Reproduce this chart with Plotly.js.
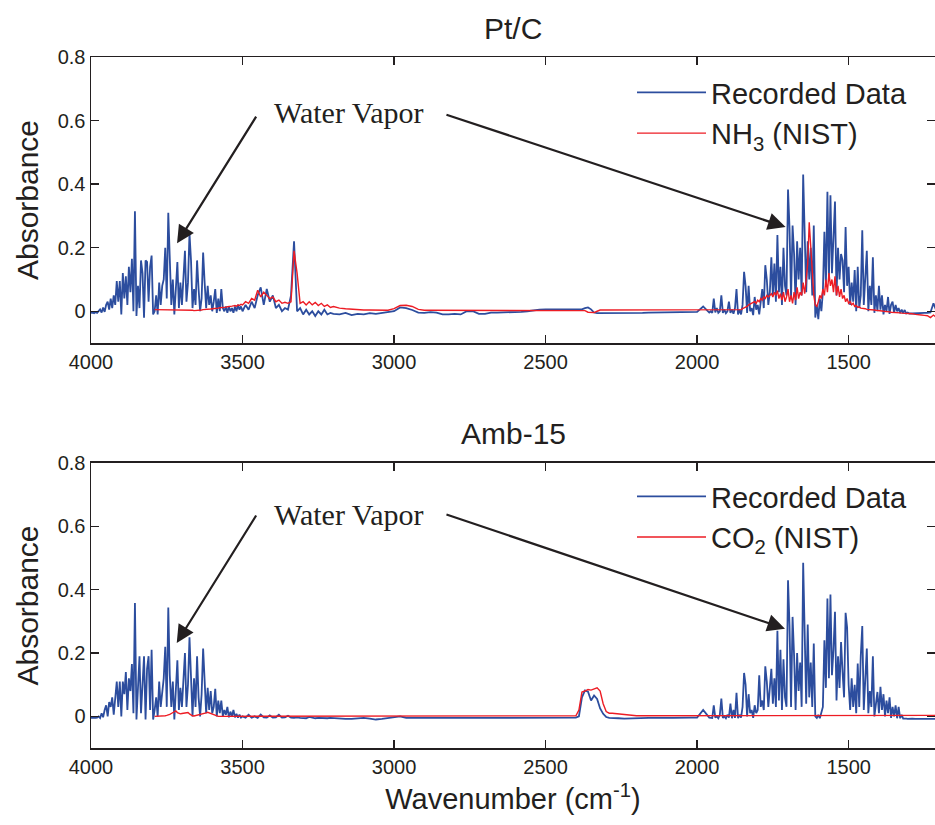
<!DOCTYPE html>
<html>
<head>
<meta charset="utf-8">
<script src="https://cdn.plot.ly/plotly-3.0.1.min.js"></script>
<style>html,body{margin:0;padding:0;background:#fff;}#chart{width:935px;height:825px;}</style>
</head>
<body>
<div id="chart"></div>
<script>
// Shared wavenumber grid (cm^-1)
const wavenumber = [
  4000,3995,3990,3985,3980,3975,3970,3965,3960,3955,
  3950,3945,3940,3935,3930,3925,3920,3915,3910,3905,
  3900,3895,3890,3885,3880,3875,3870,3865,3860,3855,
  3850,3845,3840,3835,3830,3825,3820,3815,3810,3805,
  3800,3795,3790,3785,3780,3775,3770,3765,3760,3755,
  3750,3745,3740,3735,3730,3725,3720,3715,3710,3705,
  3700,3695,3690,3685,3680,3675,3670,3665,3660,3655,
  3650,3645,3640,3635,3630,3625,3620,3615,3610,3605,
  3600,3595,3590,3585,3580,3575,3570,3565,3560,3555,
  3550,3545,3540,3535,3530,3525,3520,3515,3510,3505,
  3500,
  3490,3480,3470,3460,3450,3440,3430,3420,3410,3400,
  3390,3380,3370,3360,3350,3340,3330,3320,3310,3300,
  3290,3280,3270,3260,3250,3240,3230,3220,3210,3200,
  3180,3160,3140,3120,3100,3080,3060,3040,3020,3000,
  2980,2960,2940,2920,2900,2880,2860,2840,2820,2800,
  2780,2760,2740,2720,2700,2680,2660,2640,2620,2600,
  2580,2560,2540,2520,2500,2480,2460,2440,2420,
  2400,2390,2380,2370,2360,2350,2340,2330,2320,2310,2300,2290,2280,
  2260,2240,2220,2200,2180,2160,2140,2120,2100,2080,2060,2040,2020,2000,1980,1960,
  1955,1950,1945,1940,1935,1930,1925,1920,1915,1910,
  1905,1900,1895,1890,1885,1880,1875,1870,1865,1860,
  1855,1850,1845,1840,1835,1830,1825,1820,1815,1810,
  1805,1800,1795,1790,1785,1780,1775,1770,1765,1760,
  1755,1750,1745,1740,1735,1730,1725,1720,1715,1710,
  1705,1700,1695,1690,1685,1680,1675,1670,1665,1660,
  1655,1650,1645,1640,1635,1630,1625,1620,1615,1610,
  1605,1600,1595,1590,1585,1580,1575,1570,1565,1560,
  1555,1550,1545,1540,1535,1530,1525,1520,1515,1510,
  1505,1500,1495,1490,1485,1480,1475,1470,1465,1460,
  1455,1450,1445,1440,1435,1430,1425,1420,1415,1410,
  1405,1400,1395,1390,1385,1380,1375,1370,1365,1360,
  1355,1350,1345,1340,1335,1330,1325,1320,1315,1310,
  1305,1300,
  1290,1280,1270,1260,1250,1240,1230,1220,1210
];

// Pt/C panel: recorded absorbance
const ptcRecorded = [
  -0.005,-0.004,-0.006,-0.003,-0.005,0.0,0.006,-0.004,0.012,-0.002,
  0.02,0.03,0.005,0.04,0.01,0.05,0.02,0.095,0.03,0.095,
  -0.01,0.12,0.04,0.11,0.02,0.14,0.06,0.165,0.0,0.315,
  -0.015,0.08,0.01,0.16,0.12,-0.02,0.16,0.155,0.03,0.14,
  0.175,-0.01,0.0,0.05,-0.01,0.09,0.02,0.08,0.10,0.2,
  0.04,0.31,0.12,0.02,0.1,-0.01,0.07,0.155,0.01,0.09,
  0.02,0.10,0.19,0.03,0.09,0.245,0.16,0.01,0.07,0.02,
  0.16,0.07,0.0,0.04,0.185,0.09,0.01,0.08,0.02,0.05,
  0.0,0.03,0.07,-0.005,0.04,0.0,0.07,0.01,0.0,0.015,
  -0.005,0.015,0.0,0.01,-0.005,0.015,0.0,0.02,0.005,0.015,
  0.0,
  0.02,0.005,0.03,0.01,0.05,0.075,0.02,0.07,0.03,0.05,
  0.01,0.02,0.0,0.01,0.005,0.05,0.22,0.0,0.01,-0.01,
  0.005,-0.01,0.0,-0.015,0.0,-0.01,0.005,-0.01,-0.005,-0.008,
  -0.01,-0.005,-0.012,-0.008,-0.01,-0.006,-0.008,-0.005,-0.004,0.0,
  0.012,0.01,0.004,-0.004,-0.005,-0.003,-0.004,-0.01,-0.01,-0.008,
  -0.01,0.0,0.0,-0.008,-0.008,-0.004,-0.004,-0.004,-0.003,-0.002,
  -0.002,0.0,0.003,0.005,0.006,0.006,0.006,0.006,0.006,
  0.006,0.006,0.006,0.01,0.012,0.006,-0.004,-0.006,-0.006,-0.007,-0.007,-0.006,-0.006,
  -0.006,-0.006,-0.005,-0.005,-0.005,-0.004,-0.004,-0.004,-0.004,-0.003,-0.004,-0.003,-0.003,-0.002,0.015,-0.004,
  0.0,-0.005,0.04,-0.004,0.01,-0.005,0.0,0.05,-0.005,0.005,
  -0.006,0.0,0.03,-0.005,0.005,-0.008,0.01,0.07,-0.01,0.005,
  -0.01,0.02,0.124,0.08,-0.005,0.08,0.0,0.01,-0.012,0.045,
  0.005,0.02,-0.01,0.03,0.07,0.01,0.145,0.10,0.02,0.06,
  0.17,0.05,0.15,0.03,0.24,0.06,0.14,0.02,0.20,0.08,
  0.05,0.383,0.26,0.04,0.27,0.18,0.02,0.22,0.1,0.2,
  0.05,0.43,0.27,0.06,0.22,0.1,0.2,0.05,0.27,-0.02,
  0.02,-0.025,0.04,0.0,0.06,0.25,0.08,0.376,0.1,0.365,
  0.12,0.25,0.345,0.05,0.2,0.1,0.18,0.16,0.06,0.265,
  0.08,0.14,0.02,0.09,0.03,0.13,0.0,0.14,0.01,0.05,
  0.255,0.02,0.09,0.19,0.0,0.08,0.02,0.17,-0.005,0.05,
  0.0,0.08,0.005,0.05,-0.01,0.02,0.0,0.045,-0.008,0.02,
  0.03,-0.005,0.02,0.0,0.01,-0.006,0.005,-0.006,0.004,-0.007,
  -0.004,-0.007,
  -0.007,-0.006,-0.007,-0.006,-0.005,-0.005,-0.004,0.025,0.0
];

// Pt/C panel: NH3 reference spectrum (NIST)
const ptcNH3 = [
  null,null,null,null,null,null,null,null,null,null,
  null,null,null,null,null,null,null,null,null,null,
  null,null,null,null,null,null,null,null,null,null,
  null,null,null,null,null,null,null,null,null,null,
  null,null,0.005,0.005,0.004,0.005,0.005,0.004,0.003,0.004,
  0.003,0.004,0.003,0.003,0.004,0.005,0.005,0.004,0.003,0.003,
  0.004,0.005,0.004,0.003,0.003,0.004,0.003,0.003,0.002,0.002,
  0.003,0.003,0.004,0.004,0.005,0.005,0.006,0.006,0.007,0.007,
  0.008,0.008,0.009,0.01,0.01,0.011,0.011,0.012,0.012,0.013,
  0.014,0.014,0.015,0.016,0.017,0.018,0.016,0.02,0.018,0.022,
  0.02,
  0.03,0.025,0.04,0.035,0.066,0.045,0.06,0.05,0.04,0.045,
  0.03,0.035,0.025,0.028,0.025,0.03,0.19,0.12,0.025,0.03,
  0.02,0.03,0.02,0.028,0.018,0.025,0.015,0.02,0.012,0.015,
  0.01,0.008,0.006,0.005,0.004,0.004,0.003,0.003,0.003,0.008,
  0.018,0.019,0.015,0.006,0.003,0.003,0.003,0.003,0.003,0.003,
  0.003,0.003,0.003,0.003,0.003,0.003,0.003,0.003,0.003,0.003,
  0.003,0.003,0.003,0.003,0.003,0.003,0.003,0.003,0.003,
  0.003,0.003,0.003,0.002,-0.003,-0.004,-0.004,0.0,0.004,0.004,0.004,0.004,0.004,
  0.004,0.004,0.004,0.004,0.004,0.004,0.004,0.004,0.004,0.004,0.004,0.004,0.004,0.004,0.004,0.004,
  0.005,0.005,0.005,0.005,0.005,0.005,0.005,0.005,0.005,0.005,
  0.005,0.005,0.005,0.005,0.005,0.005,0.005,0.005,0.005,0.005,
  0.005,0.008,0.01,0.012,0.015,0.02,0.022,0.025,0.028,0.03,
  0.025,0.035,0.03,0.04,0.035,0.045,0.04,0.05,0.045,0.05,
  0.055,0.045,0.06,0.05,0.065,0.04,0.055,0.035,0.06,0.03,
  0.045,0.07,0.03,0.05,0.025,0.06,0.035,0.075,0.04,0.06,
  0.05,0.09,0.055,0.1,0.15,0.28,0.2,0.14,0.05,0.02,
  0.015,0.03,0.05,0.04,0.07,0.05,0.1,0.06,0.12,0.08,
  0.1,0.06,0.11,0.05,0.08,0.045,0.07,0.04,0.05,0.03,
  0.04,0.025,0.03,0.02,0.025,0.015,0.018,0.012,0.014,0.01,
  0.01,0.008,0.008,0.006,0.006,0.005,0.005,0.004,0.004,0.003,
  0.003,0.002,0.002,0.001,0.0,0.0,-0.001,-0.002,-0.002,-0.003,
  -0.003,-0.004,-0.004,-0.005,-0.005,-0.005,-0.006,-0.006,-0.006,-0.007,
  -0.007,-0.008,
  -0.008,-0.01,-0.012,-0.012,-0.013,-0.014,-0.02,-0.012,-0.02
];

// Amb-15 panel: recorded absorbance
const ambRecorded = [
  -0.005,-0.006,-0.005,-0.005,-0.004,0.0,-0.005,0.01,-0.003,0.02,
  0.035,0.0,0.045,0.03,0.06,0.005,0.06,0.11,0.03,0.11,
  0.0,0.11,0.07,0.14,0.02,0.12,0.08,0.165,0.01,0.358,
  -0.01,0.1,0.19,0.01,0.12,0.19,-0.01,0.15,0.19,0.02,
  0.21,-0.01,0.02,0.06,0.0,0.11,0.03,0.09,0.12,0.22,
  0.03,0.344,0.13,0.03,0.11,-0.01,0.08,0.177,0.02,0.09,
  0.03,0.1,0.2,0.03,0.1,0.25,0.13,0.0,0.12,0.03,
  0.19,0.06,0.0,0.07,0.214,0.1,0.01,0.09,0.02,0.08,
  0.01,0.03,0.087,0.0,0.05,0.01,0.05,0.0,0.02,0.005,
  0.03,-0.003,0.015,0.0,0.02,-0.003,0.008,-0.004,0.005,-0.004,
  0.0,
  -0.004,0.005,-0.004,0.0,-0.005,0.006,-0.003,-0.004,0.003,-0.004,
  -0.003,0.005,-0.004,-0.003,0.002,-0.004,-0.005,-0.003,-0.005,-0.006,
  -0.006,-0.002,-0.005,-0.006,-0.005,-0.006,-0.005,-0.006,-0.005,-0.006,
  -0.006,-0.008,-0.008,-0.006,-0.005,-0.007,-0.01,-0.008,-0.006,-0.004,
  0.0,-0.005,-0.006,-0.005,-0.005,-0.006,-0.005,-0.005,-0.005,-0.004,
  -0.005,-0.005,-0.004,-0.004,-0.004,-0.005,-0.005,-0.004,-0.004,-0.004,
  -0.004,-0.004,-0.004,-0.004,-0.004,-0.004,-0.004,-0.004,-0.004,
  -0.004,0.0,0.06,0.082,0.078,0.05,0.066,0.055,0.025,0.008,-0.002,-0.005,-0.006,
  -0.006,-0.007,-0.006,-0.005,-0.006,-0.005,-0.005,-0.006,-0.005,-0.005,-0.004,-0.005,-0.004,-0.004,0.02,-0.004,
  -0.004,-0.005,0.035,-0.004,0.0,-0.006,0.005,0.056,-0.005,0.0,
  -0.006,0.005,-0.004,0.04,-0.006,0.02,-0.005,0.074,-0.006,0.005,
  -0.004,0.03,0.137,0.1,0.0,0.07,0.01,0.02,-0.005,0.035,
  0.01,0.02,0.13,0.03,0.05,0.02,0.158,0.11,0.03,0.09,
  0.15,0.04,0.12,0.03,0.27,0.05,0.21,0.02,0.18,0.06,
  0.03,0.43,0.285,0.03,0.314,0.193,0.02,0.2,0.08,0.17,
  0.03,0.485,0.3,0.04,0.29,0.06,0.17,0.03,0.23,0.0,
  -0.005,0.005,-0.006,0.01,0.03,0.24,0.09,0.372,0.12,0.385,
  0.13,0.21,0.33,0.05,0.19,0.09,0.235,0.14,0.06,0.327,
  0.28,0.1,0.02,0.12,0.03,0.1,0.01,0.167,0.03,0.19,
  0.285,0.02,0.1,0.214,0.01,0.08,0.03,0.19,0.0,0.04,
  0.077,0.01,0.093,0.02,0.07,0.0,0.05,0.01,0.06,-0.005,
  0.03,0.0,0.035,-0.006,0.03,-0.006,0.005,-0.007,-0.006,-0.007,
  -0.008,-0.007,
  -0.007,-0.008,-0.008,-0.007,-0.008,-0.007,-0.008,-0.007,-0.008
];

// Amb-15 panel: CO2 reference spectrum (NIST)
const ambCO2 = [
  null,null,null,null,null,null,null,null,null,null,
  null,null,null,null,null,null,null,null,null,null,
  null,null,null,null,null,null,null,null,null,null,
  null,null,null,null,null,null,null,null,null,null,
  null,null,0.0,0.0,0.0,0.0,0.0,0.0,0.001,0.002,
  0.003,0.004,0.006,0.009,0.012,0.016,0.017,0.012,0.009,0.008,
  0.009,0.01,0.012,0.013,0.012,0.008,0.004,0.002,0.001,0.002,
  0.003,0.005,0.007,0.008,0.009,0.01,0.011,0.013,0.011,0.009,
  0.007,0.005,0.003,0.001,0.0,0.0,0.0,0.0,0.001,0.001,
  0.001,0.001,0.001,0.001,0.001,0.001,0.001,0.001,0.001,0.001,
  0.001,
  0.001,0.001,0.001,0.001,0.001,0.001,0.001,0.001,0.001,0.001,
  0.001,0.001,0.001,0.001,0.001,0.001,0.001,0.001,0.001,0.001,
  0.001,0.001,0.001,0.001,0.001,0.001,0.001,0.001,0.001,0.001,
  0.001,0.001,0.001,0.001,0.001,0.001,0.001,0.001,0.001,0.001,
  0.001,0.001,0.001,0.001,0.001,0.001,0.001,0.001,0.001,0.001,
  0.001,0.001,0.001,0.001,0.001,0.001,0.001,0.001,0.001,0.001,
  0.001,0.001,0.001,0.001,0.001,0.001,0.001,0.001,0.001,
  0.002,0.02,0.077,0.08,0.085,0.083,0.086,0.09,0.08,0.04,0.015,0.01,0.01,
  0.008,0.004,0.002,0.002,0.002,0.002,0.002,0.002,0.002,0.002,0.002,0.002,0.002,0.002,0.002,0.002,
  0.002,0.002,0.002,0.002,0.002,0.002,0.002,0.002,0.002,0.002,
  0.002,0.002,0.002,0.002,0.002,0.002,0.002,0.002,0.002,0.002,
  0.002,0.002,0.002,0.002,0.002,0.002,0.002,0.002,0.002,0.002,
  0.002,0.002,0.002,0.002,0.002,0.002,0.002,0.002,0.002,0.002,
  0.002,0.002,0.002,0.002,0.002,0.002,0.002,0.002,0.002,0.002,
  0.002,0.002,0.002,0.002,0.002,0.002,0.002,0.002,0.002,0.002,
  0.003,0.003,0.003,0.003,0.003,0.003,0.003,0.003,0.003,0.003,
  0.003,0.003,0.003,0.003,0.003,0.003,0.003,0.003,0.003,0.003,
  0.003,0.003,0.003,0.003,0.003,0.003,0.003,0.003,0.003,0.003,
  0.003,0.003,0.003,0.003,0.003,0.003,0.003,0.003,0.003,0.003,
  0.003,0.003,0.003,0.003,0.003,0.003,0.003,0.003,0.003,0.003,
  0.003,0.003,0.003,0.003,0.003,0.003,0.003,0.003,0.003,0.003,
  0.003,0.003,0.003,0.003,0.003,0.003,0.003,0.003,0.003,0.003,
  0.003,0.003,
  0.003,0.003,0.003,0.003,0.003,0.003,0.003,0.003,0.003
];

const xTickVals = [4000, 3500, 3000, 2500, 2000, 1500];
const yTickVals = [0, 0.2, 0.4, 0.6, 0.8];
const panelTitles = ['Pt/C', 'Amb-15'];
const seriesNames = ['Recorded Data', 'NH<sub>3</sub> (NIST)', 'CO<sub>2</sub> (NIST)'];

const BLUE = '#2c4d9e';
const RED = '#ed1c24';
const INK = '#231f20';
const SANS = 'Liberation Sans, Arial, Helvetica, sans-serif';
const SERIF = 'Liberation Serif, Times New Roman, serif';

const traces = [
  {x: wavenumber, y: ptcRecorded, xaxis: 'x', yaxis: 'y', mode: 'lines', name: seriesNames[0],
   line: {color: BLUE, width: 1.8}, legend: 'legend'},
  {x: wavenumber, y: ptcNH3, xaxis: 'x', yaxis: 'y', mode: 'lines', name: seriesNames[1],
   line: {color: RED, width: 1.4}, legend: 'legend'},
  {x: wavenumber, y: ambRecorded, xaxis: 'x2', yaxis: 'y2', mode: 'lines', name: seriesNames[0],
   line: {color: BLUE, width: 1.8}, legend: 'legend2'},
  {x: wavenumber, y: ambCO2, xaxis: 'x2', yaxis: 'y2', mode: 'lines', name: seriesNames[2],
   line: {color: RED, width: 1.4}, legend: 'legend2'}
];

function xAxis(anchor, title) {
  const a = {
    anchor: anchor, domain: [0, 1], range: [4000, 1215], autorange: false,
    tickmode: 'array', tickvals: xTickVals, ticks: 'inside', ticklen: 8, tickwidth: 1.5, tickcolor: INK,
    showline: true, mirror: 'ticks', linecolor: INK, linewidth: 1.5,
    showgrid: false, zeroline: false, tickfont: {size: 20, color: INK, family: SANS}
  };
  if (title) a.title = {text: title, font: {size: 29, color: INK, family: SANS}, standoff: 12};
  return a;
}
function yAxis(anchor, domain) {
  return {
    anchor: anchor, domain: domain, range: [-0.1, 0.8], autorange: false,
    tickmode: 'array', tickvals: yTickVals, ticks: 'inside', ticklen: 8, tickwidth: 1.5, tickcolor: INK,
    showline: true, mirror: 'ticks', linecolor: INK, linewidth: 1.5,
    showgrid: false, zeroline: false, tickfont: {size: 20, color: INK, family: SANS},
    title: {text: 'Absorbance', font: {size: 30, color: INK, family: SANS}, standoff: 10}
  };
}

function arrow(xr, yr, tip, tail) {
  return {xref: xr, yref: yr, axref: xr, ayref: yr, x: tip[0], y: tip[1], ax: tail[0], ay: tail[1],
          text: '', showarrow: true, arrowhead: 2, arrowsize: 1.6, arrowwidth: 2.2, arrowcolor: INK, standoff: 0, startstandoff: 0};
}
function label(xr, yr, x, y) {
  return {xref: xr, yref: yr, x: x, y: y, text: 'Water Vapor', showarrow: false,
          font: {family: SERIF, size: 30, color: INK}};
}

const legendBase = {xanchor: 'left', yanchor: 'top', bgcolor: 'rgba(0,0,0,0)', borderwidth: 0,
  font: {size: 29, color: INK, family: SANS}, itemwidth: 69, traceorder: 'normal'};

const layout = {
  width: 935, height: 825,
  margin: {l: 91, r: 0, t: 0, b: 0},
  paper_bgcolor: '#ffffff', plot_bgcolor: '#ffffff',
  font: {family: SANS, color: INK},
  showlegend: true,
  xaxis: xAxis('y', null),
  yaxis: yAxis('x', [0.5842, 0.9309]),
  xaxis2: xAxis('y2', 'Wavenumber (cm<sup>-1</sup>)'),
  yaxis2: yAxis('x2', [0.0933, 0.4388]),
  legend: Object.assign({}, legendBase, {x: 0.641, y: 0.9187}),
  legend2: Object.assign({}, legendBase, {x: 0.641, y: 0.4291}),
  annotations: [
    {xref: 'paper', yref: 'paper', x: 0.5, y: 0.966, text: panelTitles[0], showarrow: false,
     xanchor: 'center', yanchor: 'middle', font: {size: 30, color: INK, family: SANS}},
    {xref: 'paper', yref: 'paper', x: 0.5, y: 0.474, text: panelTitles[1], showarrow: false,
     xanchor: 'center', yanchor: 'middle', font: {size: 30, color: INK, family: SANS}},
    label('x', 'y', 3149, 0.624),
    arrow('x', 'y', [3716, 0.214], [3452, 0.617]),
    arrow('x', 'y', [1708, 0.265], [2832, 0.62]),
    label('x2', 'y2', 3149, 0.636),
    arrow('x2', 'y2', [3717, 0.232], [3452, 0.639]),
    arrow('x2', 'y2', [1710, 0.277], [2832, 0.639])
  ]
};

Plotly.newPlot('chart', traces, layout, {displayModeBar: false, staticPlot: true});
</script>
</body>
</html>
